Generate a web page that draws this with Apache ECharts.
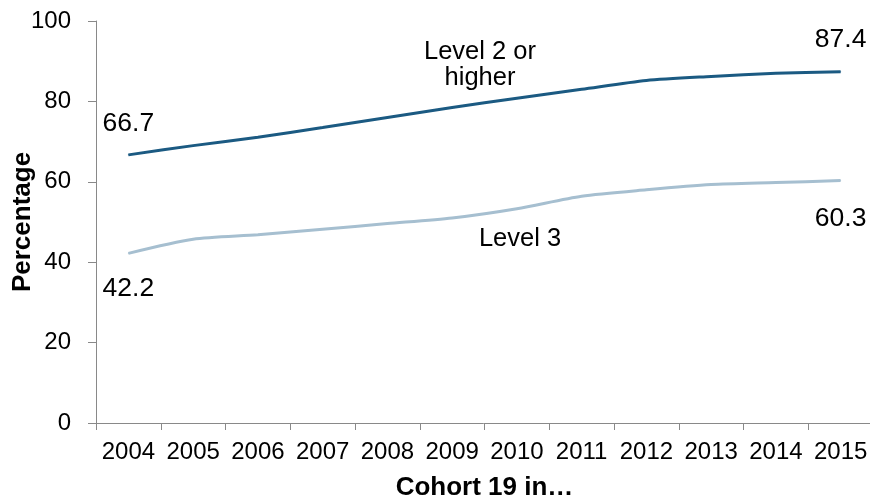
<!DOCTYPE html>
<html>
<head>
<meta charset="utf-8">
<script src="https://cdn.jsdelivr.net/npm/echarts@6/dist/echarts.min.js"></script>
<style>
html,body{margin:0;padding:0;background:#fff;}
#chart{width:870px;height:500px;}
</style>
</head>
<body>
<div id="chart"></div>
<script>
var years = ['2004','2005','2006','2007','2008','2009','2010','2011','2012','2013','2014','2015'];
var level2 = [66.7, 69.0, 71.1, 73.5, 76.0, 78.5, 80.8, 83.0, 85.2, 86.2, 87.0, 87.4];
var level3 = [42.2, 45.7, 46.8, 48.2, 49.6, 51.0, 53.3, 56.4, 58.0, 59.3, 59.8, 60.3];
var yTicks = [0, 20, 40, 60, 80, 100];

var FONT = '"Liberation Sans", Arial, sans-serif';
var C2 = '#1b5a82';
var C3 = '#a6bfd0';

function withEndLabels(arr, pos, distFirst, distLast) {
  return arr.map(function (v, i) {
    var first = i === 0, last = i === arr.length - 1;
    return {
      value: v,
      label: { show: first || last, position: pos, distance: first ? distFirst : distLast }
    };
  });
}

var chart = echarts.init(document.getElementById('chart'), null, {renderer: 'canvas'});
chart.setOption({
  animation: false,
  backgroundColor: '#ffffff',
  grid: { left: 96, top: 21, right: -3, bottom: 77, outerBoundsMode: 'none', containLabel: false },
  xAxis: {
    type: 'category',
    data: years,
    boundaryGap: true,
    name: 'Cohort 19 in\u2026',
    nameLocation: 'middle',
    nameGap: 52,
    nameMoveOverlap: false,
    nameTextStyle: { fontFamily: FONT, fontSize: 26, fontWeight: 'bold', color: '#000' },
    axisLine: { show: true, lineStyle: { color: '#898989', width: 1 } },
    axisTick: { show: true, length: 7, lineStyle: { color: '#898989' } },
    axisLabel: { fontFamily: FONT, fontSize: 24, color: '#000', margin: 17, interval: 0 },
    splitLine: { show: false }
  },
  yAxis: {
    type: 'value',
    min: yTicks[0],
    max: yTicks[yTicks.length - 1],
    interval: 20,
    name: 'Percentage',
    nameLocation: 'middle',
    nameGap: 60,
    nameRotate: 90,
    nameMoveOverlap: false,
    nameTextStyle: { fontFamily: FONT, fontSize: 26, fontWeight: 'bold', color: '#000' },
    axisLine: { show: true, lineStyle: { color: '#898989', width: 1 } },
    axisTick: { show: true, length: 8, lineStyle: { color: '#898989' } },
    axisLabel: { fontFamily: FONT, fontSize: 24, color: '#000', margin: 25 },
    splitLine: { show: false }
  },
  series: [
    {
      name: 'Level 2 or higher',
      type: 'line',
      data: withEndLabels(level2, 'top', 17, 17.5),
      smooth: 0.25,
      symbol: 'circle',
      symbolSize: 1,
      showSymbol: true,
      lineStyle: { color: C2, width: 3 },
      itemStyle: { color: C2 },
      label: { fontFamily: FONT, fontSize: 26.5, color: '#000' }
    },
    {
      name: 'Level 3',
      type: 'line',
      data: withEndLabels(level3, 'bottom', 21.5, 24),
      smooth: 0.25,
      symbol: 'circle',
      symbolSize: 1,
      showSymbol: true,
      lineStyle: { color: C3, width: 3 },
      itemStyle: { color: C3 },
      label: { fontFamily: FONT, fontSize: 26.5, color: '#000' }
    }
  ],
  graphic: [
    {
      type: 'text', x: 480, y: 39,
      style: { text: 'Level 2 or\nhigher', fontFamily: FONT, fontSize: 25.5, fill: '#000', align: 'center', verticalAlign: 'top', lineHeight: 26 }
    },
    {
      type: 'text', x: 520, y: 226,
      style: { text: 'Level 3', fontFamily: FONT, fontSize: 25.5, fill: '#000', align: 'center', verticalAlign: 'top', lineHeight: 26 }
    }
  ]
});
</script>
</body>
</html>
